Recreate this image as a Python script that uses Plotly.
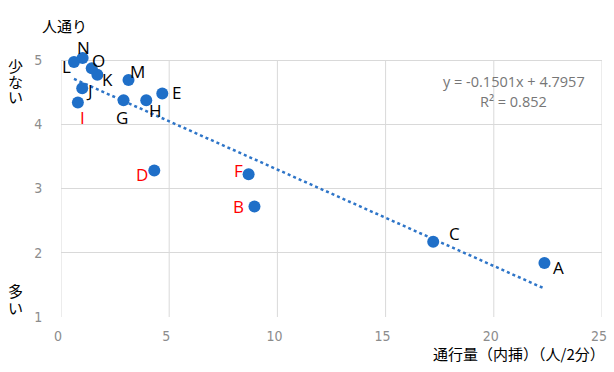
import plotly.graph_objects as go

# Survey points: pedestrian volume (interpolated, people / 2 min) vs. perceived foot traffic score
names = ["A", "B", "C", "D", "E", "F", "G", "H", "I", "J", "K", "L", "M", "N", "O"]
volume = [22.34, 8.94, 17.2, 4.31, 4.68, 8.67, 2.89, 3.94, 0.78, 0.98, 1.68, 0.6, 3.12, 1.0, 1.42]
score = [1.84, 2.72, 2.17, 3.28, 4.48, 3.22, 4.375, 4.375, 4.34, 4.56, 4.77, 4.97, 4.69, 5.03, 4.87]
red_labels = {"B", "D", "F", "I"}

# Linear trend reported for the data
slope = -0.1501
intercept = 4.7957
r_squared = 0.852

x_ticks = [0, 5, 10, 15, 20, 25]
y_ticks = [1, 2, 3, 4, 5]

# Label offsets in pixels (dx, dy) for each point
label_offset = {
    "A": (14, -4), "B": (-16, 0), "C": (21, 8), "D": (-12, -4), "E": (14, 1),
    "F": (-10, 4), "G": (-2, -17), "H": (9, -10), "I": (5, -15), "J": (7, -2),
    "K": (10, -5), "L": (-7, -5), "M": (9, 8), "N": (1, 11), "O": (7, 8),
}

blue = "#1f6fc8"
x_min, x_max = min(volume), max(volume)

# Page geometry (pixels)
W, H = 614, 372
L, R, T, B = 61, 7, 54, 55
pw, ph = W - L - R, H - T - B
y_unit_px = (H - B - 60) / (y_ticks[-1] - y_ticks[0])     # value 5 sits 60 px from the top
y_top = y_ticks[0] + ph / y_unit_px                        # small headroom so top points are not cut


def px_to_paper(px, py):
    return (px - L) / pw, 1 - (py - T) / ph


fig = go.Figure()
fig.add_trace(go.Scatter(
    x=[x_min, x_max],
    y=[slope * x_min + intercept, slope * x_max + intercept],
    mode="lines",
    line=dict(color="#2e75c8", width=2.5, dash="dot"),
    hoverinfo="skip",
))
fig.add_trace(go.Scatter(
    x=volume, y=score, mode="markers",
    marker=dict(size=12, color=blue),
    cliponaxis=False,
))

# Vertical grid lines limited to the 1..5 band
shapes = [
    dict(type="line", xref="x", yref="y", x0=xv, x1=xv, y0=y_ticks[0], y1=y_ticks[-1],
         line=dict(color="#d9d9d9", width=1), layer="below")
    for xv in x_ticks
]

annotations = []
for n, xv, yv in zip(names, volume, score):
    dx, dy = label_offset[n]
    annotations.append(dict(
        x=xv, y=yv, xref="x", yref="y", text=n, showarrow=False,
        xshift=dx, yshift=dy,
        font=dict(family="Open Sans", size=17,
                  color="#ff0000" if n in red_labels else "#000000"),
    ))

ex, ey = px_to_paper(518, 81)
rx, ry = px_to_paper(518, 101)
eq_font = dict(family="Open Sans", size=14.5, color="#767676")
annotations += [
    dict(x=ex, y=ey, xref="paper", yref="paper", text=f"y = {slope}x + {intercept}",
         showarrow=False, xanchor="center", yanchor="middle", font=eq_font),
    dict(x=rx, y=ry, xref="paper", yref="paper", text=f"R² = {r_squared}",
         showarrow=False, xanchor="center", yanchor="middle", font=eq_font),
]

# Axis captions; the vertical ones are stacked one character at a time
cap_font = dict(family="Noto Sans CJK JP", size=15, color="#000000")
captions = [("人通り", 65, 25)]
captions += [(ch, 15, y) for ch, y in zip("少ない", [65, 81, 97])]
captions += [(ch, 15, y) for ch, y in zip("多い", [290, 307])]
for text, px, py in captions:
    ax, ay = px_to_paper(px, py)
    annotations.append(dict(x=ax, y=ay, xref="paper", yref="paper", text=text,
                            showarrow=False, xanchor="center", yanchor="middle",
                            font=cap_font))
tx, ty = px_to_paper(612, 353)
annotations.append(dict(x=tx, y=ty, xref="paper", yref="paper", text="通行量（内挿）（人/2分）",
                        showarrow=False, xanchor="right", yanchor="middle",
                        font=dict(family="Noto Sans CJK JP", size=15, color="#000000")))

tick_font = dict(family="DejaVu Sans Condensed", size=14, color="#8c8c8c")
fig.update_layout(
    width=W, height=H,
    margin=dict(l=L, r=R, t=T, b=B),
    paper_bgcolor="white", plot_bgcolor="white",
    showlegend=False,
    shapes=shapes,
    annotations=annotations,
    xaxis=dict(range=[x_ticks[0], x_ticks[-1]], tickvals=x_ticks, showgrid=False,
               zeroline=False, showline=False, ticks="", ticklabelstandoff=9,
               ticklabelshift=-3, ticklabeloverflow="allow",
               tickfont=tick_font),
    yaxis=dict(range=[y_ticks[0], y_top], tickvals=y_ticks, showgrid=True,
               gridcolor="#d9d9d9", gridwidth=1, zeroline=False, showline=False,
               ticks="outside", ticklen=15, tickcolor="rgba(0,0,0,0)",
               tickfont=tick_font),
)

fig.write_html("out.html")
